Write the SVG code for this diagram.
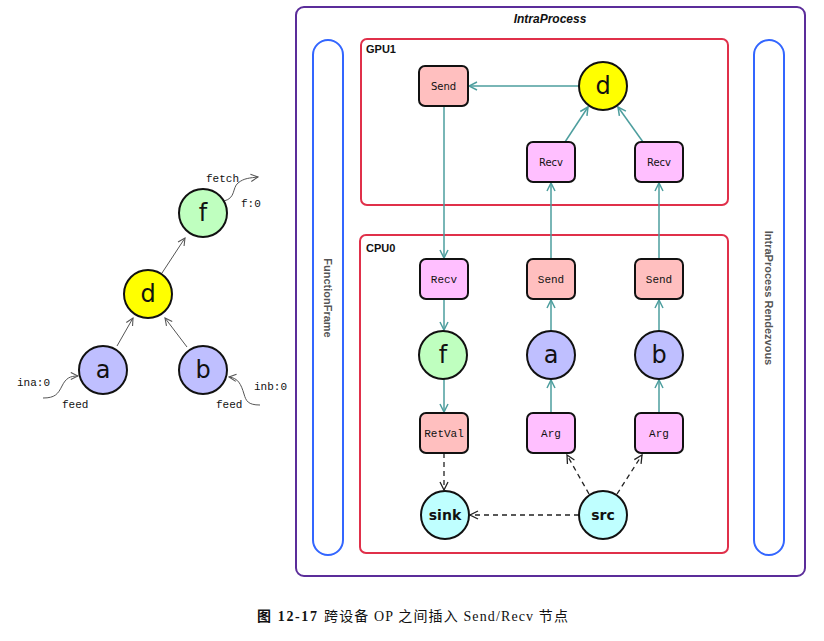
<svg xmlns="http://www.w3.org/2000/svg" width="824" height="641" viewBox="0 0 824 641">
<style>
.box{stroke:#111;stroke-width:2}
.send{fill:#ffbfbf}
.recv{fill:#ffbfff}
.lbl{font-family:"Liberation Mono",monospace;font-size:11px;fill:#111;text-anchor:middle}
.lbls{font-family:"DejaVu Sans",sans-serif;font-size:10px;fill:#111;text-anchor:middle}
.big{font-family:"DejaVu Sans",sans-serif;font-size:24px;fill:#111;text-anchor:middle}
.bold{font-family:"DejaVu Sans",sans-serif;font-size:14px;font-weight:bold;fill:#111;text-anchor:middle}
.tl{stroke:#4d9e9e;stroke-width:1.5;fill:none}
.dl{stroke:#222;stroke-width:1.3;fill:none;stroke-dasharray:5,4}
.gl{stroke:#555;stroke-width:1;fill:none}
.mono{font-family:"Liberation Mono",monospace;font-size:11px;fill:#111}
.pill{fill:none;stroke:#3366ff;stroke-width:2}
.vt{font-family:"Liberation Sans",sans-serif;font-size:11px;font-weight:bold;fill:#555;text-anchor:middle}
.dev{fill:none;stroke:#e0304a;stroke-width:2}
.devt{font-family:"Liberation Sans",sans-serif;font-size:11px;font-weight:bold;fill:#111}
</style>
<defs>
<marker id="ta" viewBox="0 0 10 10" refX="9" refY="5" markerWidth="10" markerHeight="10" markerUnits="userSpaceOnUse" orient="auto"><path d="M1,1 L9,5 L1,9" fill="none" stroke="#4d9e9e" stroke-width="1.5"/></marker>
<marker id="da" viewBox="0 0 10 10" refX="9" refY="5" markerWidth="10" markerHeight="10" markerUnits="userSpaceOnUse" orient="auto"><path d="M1,1 L9,5 L1,9" fill="none" stroke="#222" stroke-width="1.3"/></marker>
<marker id="ga" viewBox="0 0 10 10" refX="9" refY="5" markerWidth="9" markerHeight="9" markerUnits="userSpaceOnUse" orient="auto"><path d="M1,1 L9,5 L1,9" fill="none" stroke="#555" stroke-width="1.2"/></marker>
</defs>
<rect width="824" height="641" fill="#fff"/>

<!-- left graph -->
<g id="left-connectors">
<path class="gl" d="M117,346 L133,318" marker-end="url(#ga)"/>
<path class="gl" d="M187,347 L165,318" marker-end="url(#ga)"/>
<path class="gl" d="M162,273 L185,238" marker-end="url(#ga)"/>
<path class="gl" d="M224,201 C236,198 232,188 238,183 C244,178 250,178 258,177" marker-end="url(#ga)"/>
<path class="gl" d="M43,398 C55,398 58,394 62,386 C66,378 70,376 78,376" marker-end="url(#ga)"/>
<path class="gl" d="M260,405 C248,405 246,401 244,394 C241,384 238,378 229,377" marker-end="url(#ga)"/>
</g>
<g id="lf"><circle cx="203" cy="213" r="24" fill="#bfffbf" class="box"/><text class="big" x="203" y="221">f</text></g>
<g id="ld"><circle cx="148" cy="294" r="24" fill="#ffff00" class="box"/><text class="big" x="148" y="302">d</text></g>
<g id="la"><circle cx="103" cy="370" r="24" fill="#bfbfff" class="box"/><text class="big" x="103" y="378">a</text></g>
<g id="lb"><circle cx="203" cy="370" r="24" fill="#bfbfff" class="box"/><text class="big" x="203" y="378">b</text></g>
<text class="mono" x="206" y="182">fetch</text>
<text class="mono" x="241" y="207">f:0</text>
<text class="mono" x="17" y="386">ina:0</text>
<text class="mono" x="62" y="408">feed</text>
<text class="mono" x="254" y="390">inb:0</text>
<text class="mono" x="216" y="408">feed</text>

<!-- containers -->
<g id="intraprocess"><rect x="296" y="7" width="509" height="569" rx="8" fill="none" stroke="#5b2d9a" stroke-width="2"/>
<text x="550" y="23" font-family="Liberation Sans,sans-serif" font-size="12" font-weight="bold" font-style="italic" text-anchor="middle" fill="#111">IntraProcess</text></g>
<g id="functionframe"><rect class="pill" x="313" y="40" width="30" height="515" rx="15"/>
<text class="vt" transform="translate(324,298) rotate(90)">FunctionFrame</text></g>
<g id="rendezvous"><rect class="pill" x="754" y="40" width="30" height="515" rx="15"/>
<text class="vt" transform="translate(765,298) rotate(90)">IntraProcess Rendezvous</text></g>
<g id="gpu1"><rect class="dev" x="361" y="39" width="367" height="166" rx="6"/><text class="devt" x="366" y="53">GPU1</text></g>
<g id="cpu0"><rect class="dev" x="360" y="235" width="368" height="318" rx="6"/><text class="devt" x="366" y="252">CPU0</text></g>

<g id="connectors">
<path class="tl" d="M579,86 L469,86" marker-end="url(#ta)"/>
<path class="tl" d="M565,142 L588,107" marker-end="url(#ta)"/>
<path class="tl" d="M643,142 L618,107" marker-end="url(#ta)"/>
<path class="tl" d="M444,106 L444,258" marker-end="url(#ta)"/>
<path class="tl" d="M551,259 L551,183" marker-end="url(#ta)"/>
<path class="tl" d="M659,259 L659,183" marker-end="url(#ta)"/>
<path class="tl" d="M444,299 L444,330" marker-end="url(#ta)"/>
<path class="tl" d="M444,379 L444,412" marker-end="url(#ta)"/>
<path class="tl" d="M551,331 L551,300" marker-end="url(#ta)"/>
<path class="tl" d="M551,413 L551,380" marker-end="url(#ta)"/>
<path class="tl" d="M659,331 L659,300" marker-end="url(#ta)"/>
<path class="tl" d="M659,413 L659,380" marker-end="url(#ta)"/>
<path class="dl" d="M444,453 L444,490" marker-end="url(#da)"/>
<path class="dl" d="M579,515 L470,515" marker-end="url(#da)"/>
<path class="dl" d="M589,494 L567,455" marker-end="url(#da)"/>
<path class="dl" d="M617,494 L642,455" marker-end="url(#da)"/>
</g>

<!-- GPU1 nodes -->
<g id="gsend"><rect class="box send" x="419" y="66" width="49" height="40" rx="6"/><text class="lbls" x="443.5" y="90">Send</text></g>
<g id="gd"><circle cx="603" cy="86" r="24" fill="#ffff00" class="box"/><text class="big" x="603" y="94">d</text></g>
<g id="grecv1"><rect class="box recv" x="527" y="142" width="48" height="40" rx="6"/><text class="lbls" x="551" y="166">Recv</text></g>
<g id="grecv2"><rect class="box recv" x="635" y="142" width="48" height="40" rx="6"/><text class="lbls" x="659" y="166">Recv</text></g>

<!-- CPU0 nodes -->
<g id="crecv"><rect class="box recv" x="420" y="259" width="48" height="40" rx="6"/><text class="lbl" x="444" y="283">Recv</text></g>
<g id="csenda"><rect class="box send" x="527" y="259" width="48" height="40" rx="6"/><text class="lbl" x="551" y="283">Send</text></g>
<g id="csendb"><rect class="box send" x="635" y="259" width="48" height="40" rx="6"/><text class="lbl" x="659" y="283">Send</text></g>
<g id="cf"><circle cx="443" cy="355" r="24" fill="#bfffbf" class="box"/><text class="big" x="443" y="363">f</text></g>
<g id="ca"><circle cx="551" cy="355" r="24" fill="#bfbfff" class="box"/><text class="big" x="551" y="363">a</text></g>
<g id="cb"><circle cx="659" cy="355" r="24" fill="#bfbfff" class="box"/><text class="big" x="659" y="363">b</text></g>
<g id="cretval"><rect class="box send" x="420" y="413" width="48" height="40" rx="6"/><text class="lbl" x="444" y="437">RetVal</text></g>
<g id="carga"><rect class="box recv" x="527" y="413" width="48" height="40" rx="6"/><text class="lbl" x="551" y="437">Arg</text></g>
<g id="cargb"><rect class="box recv" x="635" y="413" width="48" height="40" rx="6"/><text class="lbl" x="659" y="437">Arg</text></g>
<g id="csink"><circle cx="445" cy="515" r="24" fill="#bfffff" class="box"/><text class="bold" x="445" y="520">sink</text></g>
<g id="csrc"><circle cx="603" cy="515" r="24" fill="#bfffff" class="box"/><text class="bold" x="603" y="520">src</text></g>

<g id="caption" font-family="Liberation Serif,Noto Sans CJK SC,serif" font-size="14" fill="#111">
<text x="257" y="621" font-weight="bold" textLength="60" lengthAdjust="spacing">图 12-17</text>
<text x="324" y="621" textLength="244" lengthAdjust="spacing">跨设备 OP 之间插入 Send/Recv 节点</text>
</g>
</svg>
